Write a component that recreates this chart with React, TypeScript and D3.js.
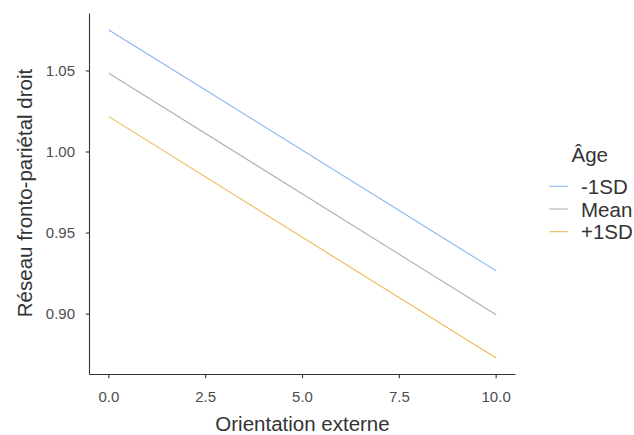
import React from "react";
import * as d3 from "d3";

const xValues = [0, 10];
const seriesNames = ["-1SD", "Mean", "+1SD"];
const seriesStart = [1.0753, 1.0486, 1.0218];
const seriesEnd = [0.9267, 0.8996, 0.8729];
const seriesColors = ["#8AB4F0", "#B0B0B0", "#EBBA55"];
const xTicks = [0, 2.5, 5, 7.5, 10];
const yTicks = [0.9, 0.95, 1.0, 1.05];

const W = 634;
const H = 435;
const FONT = "'Liberation Sans', Arial, Helvetica, sans-serif";

export default function App() {
  const left = 89.5;
  const right = 515.5;
  const top = 13.5;
  const bottom = 374.5;

  const xs = d3.scaleLinear().domain([-0.5, 10.5]).range([left, right]);
  const allVals = [...seriesStart, ...seriesEnd];
  const ymin = d3.min(allVals) as number;
  const ymax = d3.max(allVals) as number;
  const pad = (ymax - ymin) * 0.05;
  const ys = d3.scaleLinear().domain([ymin - pad, ymax + pad]).range([bottom, top]);

  const line = d3
    .line<[number, number]>()
    .x((d) => xs(d[0]))
    .y((d) => ys(d[1]));

  return (
    <div style={{ position: "absolute", left: 0, top: 0 }}>
      <svg width={W} height={H} style={{ display: "block", background: "#fff" }} fontFamily={FONT}>
        {seriesNames.map((name, i) => (
          <path
            key={name}
            d={line([
              [xValues[0], seriesStart[i]],
              [xValues[1], seriesEnd[i]],
            ]) as string}
            fill="none"
            stroke={seriesColors[i]}
            strokeWidth={1.1}
          />
        ))}
        {/* axes */}
        <line x1={left} x2={left} y1={top} y2={bottom} stroke="#333" strokeWidth={1.1} />
        <line x1={left} x2={right} y1={bottom} y2={bottom} stroke="#333" strokeWidth={1.1} />
        {xTicks.map((t) => (
          <g key={t}>
            <line x1={xs(t)} x2={xs(t)} y1={bottom} y2={bottom + 3.7} stroke="#333" strokeWidth={1.1} />
            <text x={xs(t)} y={401.5} textAnchor="middle" fontSize={15} fill="#4d4d4d">
              {d3.format(".1f")(t)}
            </text>
          </g>
        ))}
        {yTicks.map((t) => (
          <g key={t}>
            <line x1={left - 3.7} x2={left} y1={ys(t)} y2={ys(t)} stroke="#333" strokeWidth={1.1} />
            <text x={75} y={ys(t) + 5.2} textAnchor="end" fontSize={15} fill="#4d4d4d">
              {d3.format(".2f")(t)}
            </text>
          </g>
        ))}
        <text x={(left + right) / 2} y={431} textAnchor="middle" fontSize={20.5} fill="#333">
          Orientation externe
        </text>
        <text
          transform={`translate(31.5,${(top + bottom) / 2 - 1}) rotate(-90)`}
          textAnchor="middle"
          fontSize={20.5}
          fill="#333"
        >
          Réseau fronto-pariétal droit
        </text>
        {/* legend */}
        <text x={571.5} y={162} fontSize={20.5} fill="#333">
          Âge
        </text>
        {seriesNames.map((name, i) => {
          const cy = 186.3 + i * 22.7;
          return (
            <g key={name}>
              <line x1={549.3} x2={567.7} y1={cy} y2={cy} stroke={seriesColors[i]} strokeWidth={1.1} />
              <text x={581} y={cy + 7.5} fontSize={20.5} fill="#333">
                {name}
              </text>
            </g>
          );
        })}
      </svg>
    </div>
  );
}
